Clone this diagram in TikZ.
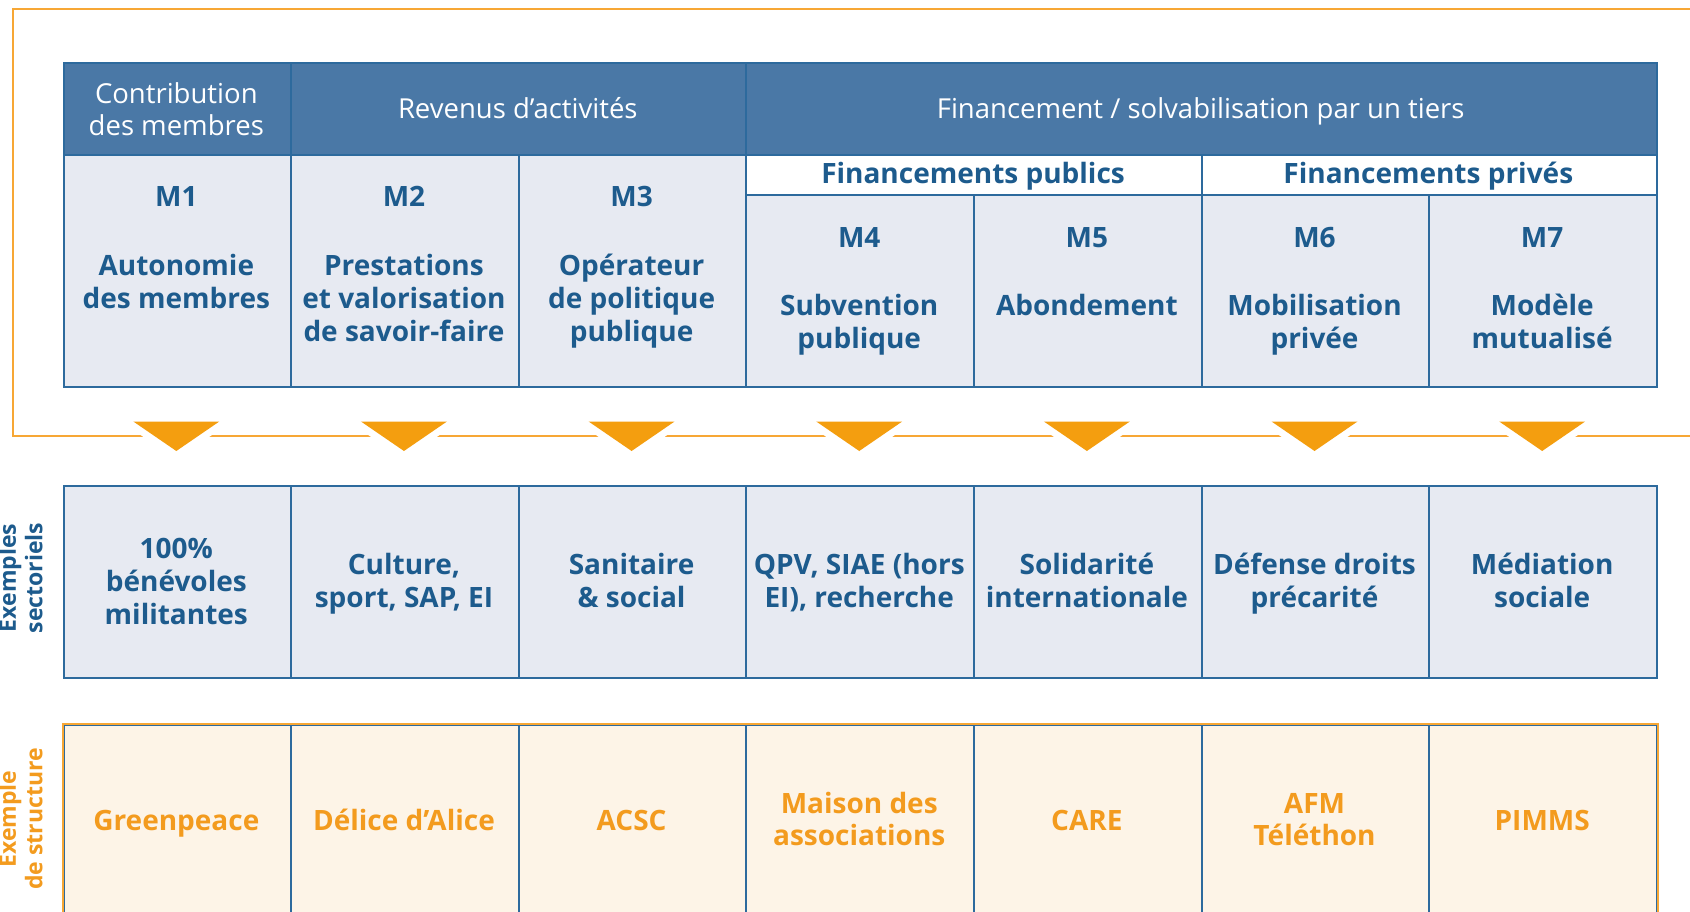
\documentclass[tikz,border=0pt]{standalone}
\usepackage{fontspec}
\setmainfont{Open Sans}
\definecolor{hdrblue}{HTML}{4A78A6}
\definecolor{lineblue}{HTML}{2D6A9D}
\definecolor{cellblue}{HTML}{E7EAF2}
\definecolor{textblue}{HTML}{1D5B8D}
\definecolor{cream}{HTML}{FDF4E7}
\definecolor{frameorange}{HTML}{F7A735}
\definecolor{triorange}{HTML}{F49E0F}
\definecolor{ortext}{HTML}{F39B1E}
\newcommand\mlines[1]{\parbox[t]{224pt}{\centering #1}}
\newcommand\vlines[1]{\parbox[t]{160pt}{\centering #1}}
\begin{document}
\begin{tikzpicture}[x=1pt,y=-1pt,
  box/.style={line width=2pt, inner sep=0pt, anchor=north west},
  hdr/.style={box, draw=lineblue, fill=hdrblue, minimum height=92pt},
  bodyc/.style={box, draw=lineblue, fill=cellblue, minimum width=227.64pt},
  subc/.style={box, draw=lineblue, fill=white, minimum width=455.28pt, minimum height=39.7pt},
  cremc/.style={box, draw=lineblue, fill=cream, minimum width=227.64pt, minimum height=192pt},
  htext/.style={text=white, font=\fontsize{27.5}{32.7}\selectfont, anchor=base, inner sep=0pt},
  btext/.style={text=textblue, font=\fontsize{28}{33}\selectfont\bfseries, anchor=base, inner sep=0pt},
  otext/.style={btext, text=ortext, font=\fontsize{28}{32}\selectfont\bfseries},
  sidelab/.style={font=\fontsize{23}{26.5}\selectfont\bfseries, rotate=90, anchor=base, inner sep=0pt},
  frame/.style={draw=frameorange, line width=2pt},
  halo/.style={draw=white, fill=white, line width=14pt, line join=miter},
  tri/.style={fill=triorange}
]
\useasboundingbox (0,0) rectangle (1690,912);
\fill[white] (0,0) rectangle (1690,912);

% orange frame
\coordinate (FA) at (1700,9);
\coordinate (FB) at (13,9);
\coordinate (FC) at (13,436);
\coordinate (FD) at (1700,436);
\draw[frame] (FA) -- (FB) -- (FC) -- (FD);

% header row
\node[hdr, minimum width=227.64pt] (H1) at (62.5,62.3) {};
\node[hdr, minimum width=455.28pt] (H2) at (290.14,62.3) {};
\node[hdr, minimum width=910.58pt] (H3) at (745.42,62.3) {};

% body row (M1-M3)
\node[bodyc, minimum height=231.7pt] (B1) at (62.5,154.3) {};
\node[bodyc, minimum height=231.7pt] (B2) at (290.14,154.3) {};
\node[bodyc, minimum height=231.7pt] (B3) at (517.78,154.3) {};
% sub headers
\node[subc] (S1) at (745.42,154.3) {};
\node[subc] (S2) at (1200.7,154.3) {};
% body row (M4-M7)
\node[bodyc, minimum height=192pt] (B4) at (745.42,194) {};
\node[bodyc, minimum height=192pt] (B5) at (973.06,194) {};
\node[bodyc, minimum height=192pt] (B6) at (1200.7,194) {};
\node[bodyc, minimum height=192pt] (B7) at (1428.34,194) {};

% row 2
\node[bodyc, minimum height=191.7pt] (R1) at (62.5,485) {};
\node[bodyc, minimum height=191.7pt] (R2) at (290.14,485) {};
\node[bodyc, minimum height=191.7pt] (R3) at (517.78,485) {};
\node[bodyc, minimum height=191.7pt] (R4) at (745.42,485) {};
\node[bodyc, minimum height=191.7pt] (R5) at (973.06,485) {};
\node[bodyc, minimum height=191.7pt] (R6) at (1200.7,485) {};
\node[bodyc, minimum height=191.7pt] (R7) at (1428.34,485) {};

% row 3
\node[cremc] (C1) at (62.5,724) {};
\node[cremc] (C2) at (290.14,724) {};
\node[cremc] (C3) at (517.78,724) {};
\node[cremc] (C4) at (745.42,724) {};
\node[cremc] (C5) at (973.06,724) {};
\node[cremc] (C6) at (1200.7,724) {};
\node[cremc] (C7) at (1428.34,724) {};
\draw[frame] (C1.south west) -- (C1.north west) -- (C7.north east) -- (C7.south east);

% triangles
\foreach \i/\x in {1/176.32,2/403.96,3/631.6,4/859.24,5/1086.88,6/1314.52,7/1542.17}{
  \coordinate (T\i) at (\x,421.5);
  \filldraw[halo] (T\i) ++(-43,0) -- ++(86,0) -- ++(-43,29.5) -- cycle;
  \fill[tri] (T\i) ++(-43,0) -- ++(86,0) -- ++(-43,29.5) -- cycle;
}

% header texts
\node[htext] (h1) at (176.32,103.3) {\mlines{Contribution\\des membres}};
\node[htext] (h2) at (517.78,118.3) {Revenus d’activités};
\node[htext] (h3) at (1200.7,118.6) {Financement / solvabilisation par un tiers};
\node[btext] (s1) at (973.06,183.3) {Financements publics};
\node[btext] (s2) at (1428.34,183.3) {Financements privés};

% model labels
\node[btext] (m1) at (176.32,207) {M1};
\node[btext] (m2) at (403.96,207) {M2};
\node[btext] (m3) at (631.6,207) {M3};
\node[btext] (m4) at (859.24,248) {M4};
\node[btext] (m5) at (1086.88,248) {M5};
\node[btext] (m6) at (1314.52,248) {M6};
\node[btext] (m7) at (1542.17,248) {M7};

\node[btext] (n1) at (176.32,276) {\mlines{Autonomie\\des membres}};
\node[btext] (n2) at (403.96,276) {\mlines{Prestations\\et valorisation\\de savoir-faire}};
\node[btext] (n3) at (631.6,276) {\mlines{Opérateur\\de politique\\publique}};
\node[btext] (n4) at (859.24,315) {\mlines{Subvention\\publique}};
\node[btext] (n5) at (1086.88,315) {\mlines{Abondement}};
\node[btext] (n6) at (1314.52,315) {\mlines{Mobilisation\\privée}};
\node[btext] (n7) at (1542.17,315) {\mlines{Modèle\\mutualisé}};

% sector examples
\node[btext] (e1) at (176.32,558.3) {\mlines{100\%\\bénévoles\\militantes}};
\node[btext] (e2) at (403.96,574.5) {\mlines{Culture,\\sport, SAP, EI}};
\node[btext] (e3) at (631.6,574.5) {\mlines{Sanitaire\\\& social}};
\node[btext] (e4) at (859.24,574.5) {\mlines{QPV, SIAE (hors\\EI), recherche}};
\node[btext] (e5) at (1086.88,574.5) {\mlines{Solidarité\\internationale}};
\node[btext] (e6) at (1314.52,574.5) {\mlines{Défense droits\\précarité}};
\node[btext] (e7) at (1542.17,574.5) {\mlines{Médiation\\sociale}};

% structure examples
\node[otext] (x1) at (176.32,830.5) {Greenpeace};
\node[otext] (x2) at (403.96,830.5) {Délice d’Alice};
\node[otext] (x3) at (631.6,830.5) {ACSC};
\node[otext] (x4) at (859.24,813.5) {\mlines{Maison des\\associations}};
\node[otext] (x5) at (1086.88,830.5) {CARE};
\node[otext] (x6) at (1314.52,813.5) {\mlines{AFM\\Téléthon}};
\node[otext] (x7) at (1542.17,830.5) {PIMMS};

% side labels
\node[sidelab, text=textblue] (L1) at (16,578) {\vlines{Exemples\\sectoriels}};
\node[sidelab, text=ortext] (L2) at (16,819) {\vlines{Exemple\\de structure}};
\end{tikzpicture}
\end{document}
